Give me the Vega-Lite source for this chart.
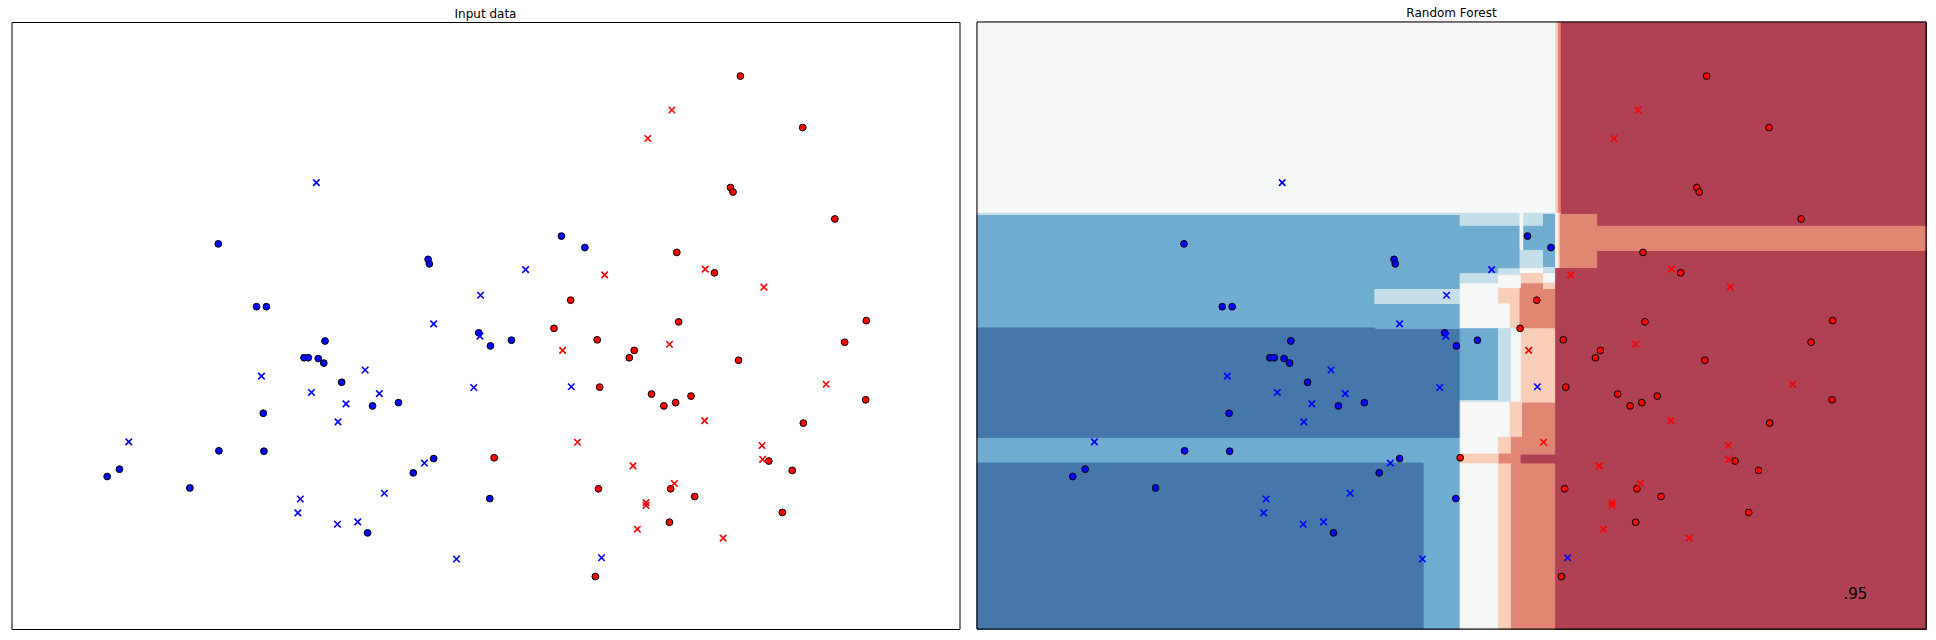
{"$schema":"https://vega.github.io/schema/vega-lite/v6.json","background":"white","padding":{"left":10.5,"top":6,"right":0,"bottom":0},"spacing":15.5,
"config":{"view":{"stroke":"#000","strokeWidth":1},"title":{"font":"DejaVu Sans","fontSize":12,"fontWeight":"normal","color":"#000","offset":1.5,"anchor":"middle"}},
"datasets":{
"pts":[
{"x":335,"y":946,"c":"blue","s":"train"},{"x":675,"y":908,"c":"blue","s":"train"},{"x":677,"y":897,"c":"blue","s":"train"},{"x":397,"y":792,"c":"blue","s":"train"},{"x":413,"y":792,"c":"blue","s":"train"},{"x":508,"y":708,"c":"blue","s":"train"},{"x":474,"y":667,"c":"blue","s":"train"},{"x":481,"y":667,"c":"blue","s":"train"},{"x":497,"y":665,"c":"blue","s":"train"},{"x":506,"y":654,"c":"blue","s":"train"},{"x":535,"y":607,"c":"blue","s":"train"},{"x":408,"y":531,"c":"blue","s":"train"},{"x":336,"y":439,"c":"blue","s":"train"},{"x":409,"y":438,"c":"blue","s":"train"},{"x":585,"y":549,"c":"blue","s":"train"},{"x":627,"y":557,"c":"blue","s":"train"},{"x":175,"y":394,"c":"blue","s":"train"},{"x":155,"y":376,"c":"blue","s":"train"},{"x":289,"y":348,"c":"blue","s":"train"},{"x":577,"y":238,"c":"blue","s":"train"},{"x":651,"y":385,"c":"blue","s":"train"},{"x":684,"y":420,"c":"blue","s":"train"},{"x":775,"y":322,"c":"blue","s":"train"},{"x":757,"y":728,"c":"blue","s":"train"},{"x":776,"y":696,"c":"blue","s":"train"},{"x":810,"y":710,"c":"blue","s":"train"},{"x":891,"y":965,"c":"blue","s":"train"},{"x":929,"y":937,"c":"blue","s":"train"},
{"x":1181,"y":1357,"c":"red","s":"train"},{"x":1282,"y":1231,"c":"red","s":"train"},{"x":1165,"y":1084,"c":"red","s":"train"},{"x":1169,"y":1073,"c":"red","s":"train"},{"x":1334,"y":1007,"c":"red","s":"train"},{"x":1078,"y":925,"c":"red","s":"train"},{"x":1139,"y":875,"c":"red","s":"train"},{"x":906,"y":808,"c":"red","s":"train"},{"x":879,"y":739,"c":"red","s":"train"},{"x":949,"y":711,"c":"red","s":"train"},{"x":1081,"y":755,"c":"red","s":"train"},{"x":1385,"y":758,"c":"red","s":"train"},{"x":1350,"y":705,"c":"red","s":"train"},{"x":1009,"y":685,"c":"red","s":"train"},{"x":1001,"y":667,"c":"red","s":"train"},{"x":1178,"y":661,"c":"red","s":"train"},{"x":953,"y":595,"c":"red","s":"train"},{"x":1037,"y":578,"c":"red","s":"train"},{"x":1101,"y":573,"c":"red","s":"train"},{"x":1076,"y":557,"c":"red","s":"train"},{"x":1057,"y":549,"c":"red","s":"train"},{"x":1384,"y":564,"c":"red","s":"train"},{"x":1283,"y":507,"c":"red","s":"train"},{"x":782,"y":422,"c":"red","s":"train"},{"x":1227,"y":414,"c":"red","s":"train"},{"x":1265,"y":391,"c":"red","s":"train"},{"x":951,"y":346,"c":"red","s":"train"},{"x":1068,"y":346,"c":"red","s":"train"},{"x":1107,"y":327,"c":"red","s":"train"},{"x":1249,"y":288,"c":"red","s":"train"},{"x":1066,"y":264,"c":"red","s":"train"},{"x":946,"y":131,"c":"red","s":"train"},
{"x":494,"y":1096,"c":"blue","s":"test"},{"x":833,"y":883,"c":"blue","s":"test"},{"x":760,"y":820,"c":"blue","s":"test"},{"x":684,"y":750,"c":"blue","s":"test"},{"x":759,"y":720,"c":"blue","s":"test"},{"x":573,"y":637,"c":"blue","s":"test"},{"x":405,"y":622,"c":"blue","s":"test"},{"x":486,"y":582,"c":"blue","s":"test"},{"x":596,"y":579,"c":"blue","s":"test"},{"x":542,"y":554,"c":"blue","s":"test"},{"x":749,"y":594,"c":"blue","s":"test"},{"x":907,"y":596,"c":"blue","s":"test"},{"x":529,"y":510,"c":"blue","s":"test"},{"x":190,"y":461,"c":"blue","s":"test"},{"x":669,"y":409,"c":"blue","s":"test"},{"x":468,"y":321,"c":"blue","s":"test"},{"x":464,"y":287,"c":"blue","s":"test"},{"x":604,"y":335,"c":"blue","s":"test"},{"x":528,"y":259,"c":"blue","s":"test"},{"x":561,"y":265,"c":"blue","s":"test"},{"x":721,"y":174,"c":"blue","s":"test"},{"x":956,"y":177,"c":"blue","s":"test"},
{"x":1070,"y":1274,"c":"red","s":"test"},{"x":1031,"y":1204,"c":"red","s":"test"},{"x":1124,"y":884,"c":"red","s":"test"},{"x":961,"y":870,"c":"red","s":"test"},{"x":1219,"y":840,"c":"red","s":"test"},{"x":893,"y":685,"c":"red","s":"test"},{"x":1066,"y":700,"c":"red","s":"test"},{"x":1320,"y":602,"c":"red","s":"test"},{"x":1123,"y":513,"c":"red","s":"test"},{"x":917,"y":460,"c":"red","s":"test"},{"x":1216,"y":452,"c":"red","s":"test"},{"x":1217,"y":418,"c":"red","s":"test"},{"x":1007,"y":402,"c":"red","s":"test"},{"x":1074,"y":359,"c":"red","s":"test"},{"x":1028,"y":312,"c":"red","s":"test"},{"x":1028,"y":305,"c":"red","s":"test"},{"x":1014,"y":247,"c":"red","s":"test"},{"x":1153,"y":225,"c":"red","s":"test"}],
"regions":[
{"x":0,"x2":1536,"y":2.5,"y2":1489.5,"p":"r3"},
{"x":0,"x2":937,"y":1021,"y2":1489.5,"p":"w"},
{"x":937,"x2":941,"y":1021,"y2":1489.5,"p":"r1"},
{"x":941,"x2":944,"y":1021,"y2":1489.5,"p":"r2"},
{"x":935,"x2":941,"y":888,"y2":1021,"p":"w"},
{"x":941,"x2":944,"y":888,"y2":1021,"p":"r1"},
{"x":944,"x2":1003,"y":888,"y2":1018,"p":"r2"},
{"x":1003,"x2":1536,"y":930,"y2":989,"p":"r2"},
{"x":0,"x2":782,"y":2.5,"y2":1018,"p":"b2"},
{"x":0,"x2":782,"y":1018,"y2":1021,"p":"b1"},
{"x":644,"x2":782,"y":800,"y2":834,"p":"b1"},
{"x":0,"x2":644,"y":472,"y2":740,"p":"b3"},
{"x":644,"x2":782,"y":472,"y2":736,"p":"b3"},
{"x":0,"x2":722,"y":2.5,"y2":409,"p":"b3"},
{"x":782,"x2":879,"y":989,"y2":1021,"p":"b1"},
{"x":782,"x2":879,"y":885,"y2":989,"p":"b2"},
{"x":782,"x2":844,"y":873,"y2":885,"p":"b2"},
{"x":844,"x2":879,"y":869,"y2":885,"p":"b1"},
{"x":782,"x2":844,"y":848,"y2":873,"p":"b1"},
{"x":782,"x2":844,"y":738,"y2":848,"p":"w"},
{"x":844,"x2":881,"y":836,"y2":869,"p":"w"},
{"x":844,"x2":879,"y":799,"y2":836,"p":"r1"},
{"x":844,"x2":863,"y":738,"y2":799,"p":"w"},
{"x":863,"x2":879,"y":738,"y2":799,"p":"r1"},
{"x":879,"x2":885,"y":930,"y2":1021,"p":"w"},
{"x":885,"x2":917,"y":989,"y2":1021,"p":"b1"},
{"x":885,"x2":917,"y":930,"y2":989,"p":"b2"},
{"x":879,"x2":917,"y":885,"y2":930,"p":"b1"},
{"x":879,"x2":917,"y":873,"y2":885,"p":"w"},
{"x":881,"x2":917,"y":848,"y2":873,"p":"r1"},
{"x":881,"x2":917,"y":836,"y2":848,"p":"r2"},
{"x":879,"x2":917,"y":738,"y2":836,"p":"r2"},
{"x":917,"x2":935,"y":1018,"y2":1021,"p":"b1"},
{"x":917,"x2":935,"y":888,"y2":1018,"p":"b2"},
{"x":917,"x2":935,"y":873,"y2":888,"p":"b1"},
{"x":917,"x2":935,"y":850,"y2":873,"p":"w"},
{"x":917,"x2":935,"y":834,"y2":850,"p":"r1"},
{"x":917,"x2":935,"y":738,"y2":834,"p":"r2"},
{"x":782,"x2":844,"y":562,"y2":738,"p":"b2"},
{"x":782,"x2":844,"y":558,"y2":562,"p":"b1"},
{"x":844,"x2":865,"y":558,"y2":738,"p":"b1"},
{"x":865,"x2":881,"y":558,"y2":738,"p":"w"},
{"x":881,"x2":935,"y":556,"y2":738,"p":"r1"},
{"x":782,"x2":844,"y":431,"y2":558,"p":"w"},
{"x":844,"x2":863,"y":472,"y2":558,"p":"w"},
{"x":863,"x2":883,"y":472,"y2":558,"p":"r1"},
{"x":844,"x2":865,"y":431,"y2":472,"p":"r1"},
{"x":865,"x2":883,"y":431,"y2":472,"p":"r2"},
{"x":883,"x2":935,"y":431,"y2":556,"p":"r2"},
{"x":782,"x2":845,"y":407,"y2":431,"p":"r1"},
{"x":845,"x2":879,"y":407,"y2":431,"p":"r2"},
{"x":782,"x2":844,"y":2.5,"y2":407,"p":"w"},
{"x":844,"x2":865,"y":2.5,"y2":407,"p":"r1"},
{"x":865,"x2":935,"y":2.5,"y2":407,"p":"r2"}],
"frame":[{"x":0,"x2":1536,"y":2.5,"y2":1489.5}],
"score":[{"x":1441,"y":77,"t":".95"}]},
"hconcat":[
{"width":948,"height":607,"title":"Input data","layer":[
{"data":{"name":"pts"},"transform":[{"filter":"datum.s === 'train'"}],"mark":{"type":"circle","stroke":"#000","strokeWidth":1,"size":46,"opacity":1},"encoding":{"x":{"field":"x","type":"quantitative","axis":null,"scale":{"domain":[0,1536],"nice":false,"zero":false}},"y":{"field":"y","type":"quantitative","axis":null,"scale":{"domain":[2.5,1489.5],"nice":false,"zero":false}},"color":{"field":"c","type":"nominal","legend":null,"scale":{"domain":["blue","red"],"range":["#0000ff","#ff0000"]}}}},
{"data":{"name":"pts"},"transform":[{"filter":"datum.s === 'test'"}],"mark":{"type":"point","shape":"M-1,-1L1,1M-1,1L1,-1","filled":false,"strokeWidth":1.6,"size":42,"opacity":1},"encoding":{"x":{"field":"x","type":"quantitative","axis":null,"scale":{"domain":[0,1536],"nice":false,"zero":false}},"y":{"field":"y","type":"quantitative","axis":null,"scale":{"domain":[2.5,1489.5],"nice":false,"zero":false}},"color":{"field":"c","type":"nominal","legend":null,"scale":{"domain":["blue","red"],"range":["#0000ff","#ff0000"]}}}}
]},
{"width":949,"height":607,"title":"Random Forest","layer":[
{"data":{"name":"regions"},"mark":{"type":"rect","strokeWidth":1},"encoding":{"x":{"field":"x","type":"quantitative","axis":null,"scale":{"domain":[0,1536],"nice":false,"zero":false}},"x2":{"field":"x2"},"y":{"field":"y","type":"quantitative","axis":null,"scale":{"domain":[2.5,1489.5],"nice":false,"zero":false}},"y2":{"field":"y2"},"fill":{"field":"p","type":"nominal","legend":null,"scale":{"domain":["b3","b2","b1","w","r1","r2","r3"],"range":["#4677aa","#70acd0","#c4dfea","#f6f7f7","#f9cfba","#e18673","#b04153"]}},"stroke":{"field":"p","type":"nominal","legend":null,"scale":{"domain":["b3","b2","b1","w","r1","r2","r3"],"range":["#4677aa","#70acd0","#c4dfea","#f6f7f7","#f9cfba","#e18673","#b04153"]}}}},
{"data":{"name":"frame"},"mark":{"type":"rect","fillOpacity":0,"stroke":"#000","strokeWidth":1},"encoding":{"x":{"field":"x","type":"quantitative","axis":null,"scale":{"domain":[0,1536],"nice":false,"zero":false}},"x2":{"field":"x2"},"y":{"field":"y","type":"quantitative","axis":null,"scale":{"domain":[2.5,1489.5],"nice":false,"zero":false}},"y2":{"field":"y2"}}},
{"data":{"name":"pts"},"transform":[{"filter":"datum.s === 'train'"}],"mark":{"type":"circle","stroke":"#000","strokeWidth":1,"size":46,"opacity":1},"encoding":{"x":{"field":"x","type":"quantitative","axis":null,"scale":{"domain":[0,1536],"nice":false,"zero":false}},"y":{"field":"y","type":"quantitative","axis":null,"scale":{"domain":[2.5,1489.5],"nice":false,"zero":false}},"color":{"field":"c","type":"nominal","legend":null,"scale":{"domain":["blue","red"],"range":["#0000ff","#ff0000"]}}}},
{"data":{"name":"pts"},"transform":[{"filter":"datum.s === 'test'"}],"mark":{"type":"point","shape":"M-1,-1L1,1M-1,1L1,-1","filled":false,"strokeWidth":1.6,"size":42,"opacity":1},"encoding":{"x":{"field":"x","type":"quantitative","axis":null,"scale":{"domain":[0,1536],"nice":false,"zero":false}},"y":{"field":"y","type":"quantitative","axis":null,"scale":{"domain":[2.5,1489.5],"nice":false,"zero":false}},"color":{"field":"c","type":"nominal","legend":null,"scale":{"domain":["blue","red"],"range":["#0000ff","#ff0000"]}}}},
{"data":{"name":"score"},"mark":{"type":"text","font":"DejaVu Sans","fontSize":15,"align":"right","baseline":"alphabetic","color":"#000"},"encoding":{"x":{"field":"x","type":"quantitative","axis":null,"scale":{"domain":[0,1536],"nice":false,"zero":false}},"y":{"field":"y","type":"quantitative","axis":null,"scale":{"domain":[2.5,1489.5],"nice":false,"zero":false}},"text":{"field":"t"}}}
]}
],"resolve":{"scale":{"x":"independent","y":"independent","color":"independent"}}}
